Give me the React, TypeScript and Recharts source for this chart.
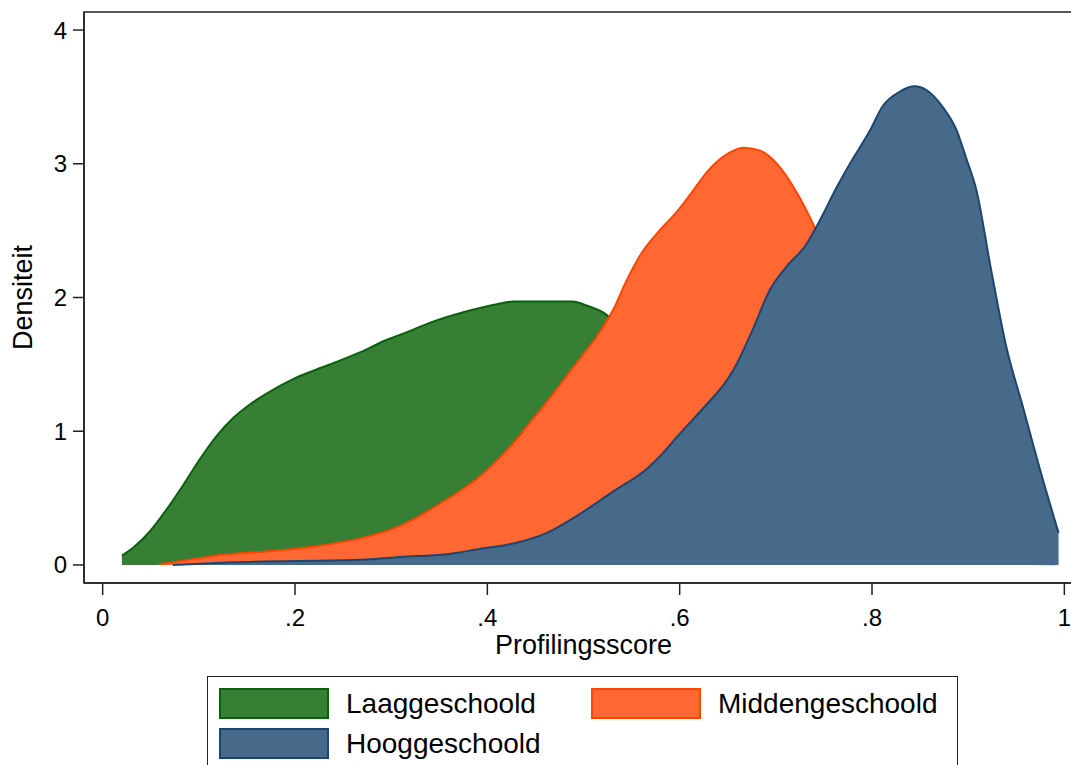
import React from "react";
import { Area, ComposedChart, Label, ReferenceArea, XAxis, YAxis } from "recharts";

const FONT = "'Liberation Sans', Arial, sans-serif";

// Laaggeschoold density
const lowX = [0.02, 0.032, 0.049, 0.066, 0.084, 0.101, 0.118, 0.136, 0.153, 0.17, 0.198, 0.222, 0.247, 0.274, 0.288, 0.309, 0.323, 0.34, 0.375, 0.41, 0.427, 0.46, 0.489, 0.503, 0.524, 0.55, 0.6, 0.65, 0.7, 0.75, 0.8, 0.85, 0.9, 0.95, 0.99];
const lowY = [0.07, 0.13, 0.25, 0.41, 0.6, 0.79, 0.96, 1.1, 1.2, 1.28, 1.39, 1.46, 1.53, 1.61, 1.66, 1.72, 1.76, 1.81, 1.89, 1.95, 1.97, 1.97, 1.97, 1.94, 1.87, 1.65, 1.25, 0.85, 0.5, 0.28, 0.14, 0.07, 0.03, 0.01, 0.005];

// Middengeschoold density
const midX = [0.059, 0.073, 0.1, 0.129, 0.17, 0.222, 0.274, 0.309, 0.323, 0.34, 0.358, 0.375, 0.392, 0.41, 0.427, 0.444, 0.462, 0.479, 0.496, 0.514, 0.531, 0.545, 0.562, 0.579, 0.597, 0.614, 0.631, 0.649, 0.666, 0.683, 0.701, 0.718, 0.732, 0.745, 0.77, 0.8, 0.85, 0.9, 0.95, 0.99];
const midY = [0.005, 0.02, 0.05, 0.08, 0.1, 0.14, 0.21, 0.29, 0.34, 0.41, 0.49, 0.57, 0.66, 0.78, 0.91, 1.06, 1.22, 1.38, 1.54, 1.71, 1.91, 2.13, 2.35, 2.5, 2.64, 2.8, 2.96, 3.07, 3.12, 3.1, 3.0, 2.83, 2.65, 2.45, 2.0, 1.4, 0.7, 0.3, 0.1, 0.03];

// Hooggeschoold density
const highX = [0.073, 0.136, 0.274, 0.309, 0.358, 0.392, 0.427, 0.462, 0.496, 0.531, 0.566, 0.583, 0.6, 0.628, 0.647, 0.656, 0.676, 0.694, 0.711, 0.732, 0.746, 0.763, 0.777, 0.798, 0.811, 0.829, 0.844, 0.857, 0.874, 0.888, 0.898, 0.909, 0.923, 0.94, 0.957, 0.974, 0.994];
const highY = [0.0, 0.02, 0.04, 0.06, 0.08, 0.12, 0.16, 0.24, 0.38, 0.55, 0.72, 0.84, 0.98, 1.2, 1.36, 1.46, 1.76, 2.06, 2.23, 2.4, 2.58, 2.82, 3.0, 3.25, 3.43, 3.54, 3.58, 3.55, 3.42, 3.25, 3.04, 2.79, 2.24, 1.62, 1.18, 0.73, 0.24];

const xTicks = [0, 0.2, 0.4, 0.6, 0.8, 1];
const xTickLabels = ["0", ".2", ".4", ".6", ".8", "1"];
const yTicks = [0, 1, 2, 3, 4];

const series = [
  { key: "low", name: "Laaggeschoold", xs: lowX, ys: lowY, fill: "#367F34", stroke: "#0B600B" },
  { key: "mid", name: "Middengeschoold", xs: midX, ys: midY, fill: "#FF6832", stroke: "#FF4500" },
  { key: "high", name: "Hooggeschoold", xs: highX, ys: highY, fill: "#476A8B", stroke: "#1B4670" },
];

// merge into one table keyed on score
const rowMap = new Map<number, Record<string, number>>();
series.forEach((s) => {
  s.xs.forEach((x, i) => {
    const row = rowMap.get(x) ?? { x };
    row[s.key] = s.ys[i];
    rowMap.set(x, row);
  });
});
const data = Array.from(rowMap.values()).sort((a, b) => a.x - b.x);

const legendPos = [
  { left: 11, top: 11 },
  { left: 383, top: 11 },
  { left: 11, top: 51 },
];

export default function App() {
  return (
    <div style={{ position: "absolute", left: 0, top: 0, width: 1071, height: 765, overflow: "hidden", background: "#fff", fontFamily: FONT }}>
      <ComposedChart width={1090} height={765} data={data} margin={{ top: 12, right: 7, left: 0, bottom: 0 }}>
        <XAxis
          dataKey="x"
          type="number"
          domain={[-0.0194, 1.0194]}
          allowDataOverflow
          ticks={xTicks}
          tickFormatter={(v: number) => xTickLabels[xTicks.indexOf(v)] ?? String(v)}
          height={182}
          tickSize={12}
          tickMargin={14}
          axisLine={{ stroke: "#222", strokeWidth: 1.5 }}
          tickLine={{ stroke: "#222", strokeWidth: 1.5 }}
          tick={{ fontSize: 24, fill: "#000", fontFamily: FONT }}
        >
          <Label value="Profilingsscore" position="insideTop" offset={52} style={{ fontSize: 27, fill: "#000", fontFamily: FONT }} />
        </XAxis>
        <YAxis
          type="number"
          domain={[-0.135, 4.135]}
          allowDataOverflow
          ticks={yTicks}
          width={84}
          tickSize={11}
          tickMargin={6}
          axisLine={{ stroke: "#222", strokeWidth: 1.5 }}
          tickLine={{ stroke: "#222", strokeWidth: 1.5 }}
          tick={{ fontSize: 24, fill: "#000", fontFamily: FONT }}
        >
          <Label value="Densiteit" angle={-90} position="insideLeft" offset={22} style={{ fontSize: 27, fill: "#000", fontFamily: FONT, textAnchor: "middle" }} />
        </YAxis>
        <ReferenceArea x1={-0.0194} x2={1.0194} y1={-0.135} y2={4.135} fill="none" stroke="#222" strokeWidth={1.5} ifOverflow="visible" />
        {series.map((s) => (
          <Area
            key={s.key}
            dataKey={s.key}
            name={s.name}
            type="monotone"
            baseValue={0}
            connectNulls
            fill={s.fill}
            fillOpacity={1}
            stroke={s.stroke}
            strokeWidth={2}
            dot={false}
            activeDot={false}
            isAnimationActive={false}
          />
        ))}
      </ComposedChart>
      <div style={{ position: "absolute", left: 207, top: 676, width: 751, height: 110, border: "1.5px solid #222", boxSizing: "border-box", background: "#fff" }}>
        {series.map((s, i) => (
          <div key={s.key} style={{ position: "absolute", left: legendPos[i].left, top: legendPos[i].top, display: "flex", alignItems: "center" }}>
            <div style={{ width: 110, height: 31, background: s.fill, border: `2.5px solid ${s.stroke}`, boxSizing: "border-box" }} />
            <span style={{ marginLeft: 17, fontSize: 28, color: "#000", lineHeight: "31px" }}>{s.name}</span>
          </div>
        ))}
      </div>
    </div>
  );
}
